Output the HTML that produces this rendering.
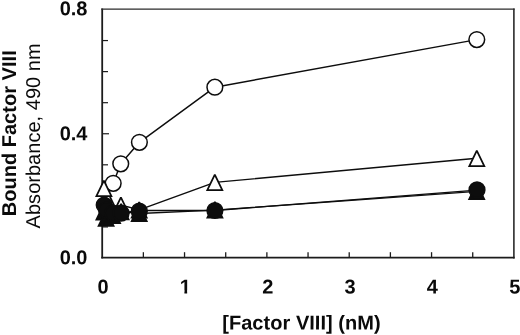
<!DOCTYPE html>
<html><head><meta charset="utf-8"><title>Figure</title>
<style>html,body{margin:0;padding:0;background:#fff}body{width:520px;height:335px;overflow:hidden}</style></head>
<body>
<svg width="520" height="335" viewBox="0 0 520 335" style="display:block;will-change:transform">
<rect width="520" height="335" fill="#fff"/>
<line x1="102.2" y1="8.5" x2="102.2" y2="258.40000000000003" stroke="#1c1c1c" stroke-width="1.8"/>
<line x1="101.3" y1="257.6" x2="514.65" y2="257.6" stroke="#1c1c1c" stroke-width="1.6"/>
<line x1="513.9" y1="8.5" x2="513.9" y2="258.40000000000003" stroke="#1c1c1c" stroke-width="1.5"/>
<line x1="101.3" y1="9.1" x2="514.65" y2="9.1" stroke="#2a2a2a" stroke-width="1.3"/>
<line x1="102.2" x2="108.0" y1="226.94" y2="226.94" stroke="#1c1c1c" stroke-width="1.2"/>
<line x1="102.2" x2="108.0" y1="195.88" y2="195.88" stroke="#1c1c1c" stroke-width="1.2"/>
<line x1="102.2" x2="108.0" y1="164.81" y2="164.81" stroke="#1c1c1c" stroke-width="1.2"/>
<line x1="102.2" x2="109.0" y1="133.75" y2="133.75" stroke="#1c1c1c" stroke-width="1.2"/>
<line x1="102.2" x2="108.0" y1="102.69" y2="102.69" stroke="#1c1c1c" stroke-width="1.2"/>
<line x1="102.2" x2="108.0" y1="71.62" y2="71.62" stroke="#1c1c1c" stroke-width="1.2"/>
<line x1="102.2" x2="108.0" y1="40.56" y2="40.56" stroke="#1c1c1c" stroke-width="1.2"/>
<line x1="143.37" x2="143.37" y1="257.6" y2="252.20000000000002" stroke="#1c1c1c" stroke-width="1.3"/>
<line x1="184.54" x2="184.54" y1="257.6" y2="252.20000000000002" stroke="#1c1c1c" stroke-width="1.3"/>
<line x1="225.71" x2="225.71" y1="257.6" y2="252.20000000000002" stroke="#1c1c1c" stroke-width="1.3"/>
<line x1="266.88" x2="266.88" y1="257.6" y2="252.20000000000002" stroke="#1c1c1c" stroke-width="1.3"/>
<line x1="308.05" x2="308.05" y1="257.6" y2="252.20000000000002" stroke="#1c1c1c" stroke-width="1.3"/>
<line x1="349.22" x2="349.22" y1="257.6" y2="252.20000000000002" stroke="#1c1c1c" stroke-width="1.3"/>
<line x1="390.39" x2="390.39" y1="257.6" y2="252.20000000000002" stroke="#1c1c1c" stroke-width="1.3"/>
<line x1="431.56" x2="431.56" y1="257.6" y2="252.20000000000002" stroke="#1c1c1c" stroke-width="1.3"/>
<line x1="472.73" x2="472.73" y1="257.6" y2="252.20000000000002" stroke="#1c1c1c" stroke-width="1.3"/>
<polyline points="103.9,188.4 107.0,198.4 112.9,210.0 120.9,205.0 139.2,209.9 214.8,182.4 476.8,158.3" fill="none" stroke="#0d0d0d" stroke-width="1.45" stroke-linejoin="round"/>
<polyline points="113.2,183.3 120.75,163.8 139.4,142.3 214.85,87.2 476.8,39.6" fill="none" stroke="#0d0d0d" stroke-width="1.45" stroke-linejoin="round"/>
<polyline points="104.2,205.0 106.5,210.0 113.0,213.2 121.1,213.2 139.3,210.4 214.9,210.5 477.0,190.2" fill="none" stroke="#0d0d0d" stroke-width="1.3" stroke-linejoin="round"/>
<polyline points="103.9,211.7 106.1,218.0 112.6,215.2 121.1,211.5 139.2,213.5 214.9,210.1 476.7,191.4" fill="none" stroke="#0d0d0d" stroke-width="1.3" stroke-linejoin="round"/>
<circle cx="113.2" cy="183.3" r="7.85" fill="#fff" stroke="#0d0d0d" stroke-width="1.5"/>
<circle cx="120.75" cy="163.8" r="7.85" fill="#fff" stroke="#0d0d0d" stroke-width="1.5"/>
<circle cx="139.4" cy="142.3" r="7.85" fill="#fff" stroke="#0d0d0d" stroke-width="1.5"/>
<circle cx="214.85" cy="87.2" r="7.85" fill="#fff" stroke="#0d0d0d" stroke-width="1.5"/>
<circle cx="476.8" cy="39.6" r="7.85" fill="#fff" stroke="#0d0d0d" stroke-width="1.5"/>
<polygon points="476.8,150.60 469.30,166.10 484.30,166.10" fill="#fff" stroke="#0d0d0d" stroke-width="1.75" stroke-linejoin="miter" stroke-miterlimit="2"/>
<polygon points="214.8,174.70 207.30,190.20 222.30,190.20" fill="#fff" stroke="#0d0d0d" stroke-width="1.75" stroke-linejoin="miter" stroke-miterlimit="2"/>
<polygon points="139.2,202.20 131.70,217.70 146.70,217.70" fill="#fff" stroke="#0d0d0d" stroke-width="1.75" stroke-linejoin="miter" stroke-miterlimit="2"/>
<polygon points="120.9,197.30 113.40,212.80 128.40,212.80" fill="#fff" stroke="#0d0d0d" stroke-width="1.75" stroke-linejoin="miter" stroke-miterlimit="2"/>
<polygon points="107.0,190.70 99.50,206.20 114.50,206.20" fill="#fff" stroke="#0d0d0d" stroke-width="1.75" stroke-linejoin="miter" stroke-miterlimit="2"/>
<polygon points="103.9,180.70 96.40,196.20 111.40,196.20" fill="#fff" stroke="#0d0d0d" stroke-width="1.75" stroke-linejoin="miter" stroke-miterlimit="2"/>
<polygon points="103.9,204.00 96.40,219.50 111.40,219.50" fill="#0d0d0d" stroke="#0d0d0d" stroke-width="1.75" stroke-linejoin="miter" stroke-miterlimit="2"/>
<polygon points="106.1,210.30 98.60,225.80 113.60,225.80" fill="#0d0d0d" stroke="#0d0d0d" stroke-width="1.75" stroke-linejoin="miter" stroke-miterlimit="2"/>
<polygon points="112.6,207.50 105.10,223.00 120.10,223.00" fill="#0d0d0d" stroke="#0d0d0d" stroke-width="1.75" stroke-linejoin="miter" stroke-miterlimit="2"/>
<polygon points="121.1,203.80 113.60,219.30 128.60,219.30" fill="#0d0d0d" stroke="#0d0d0d" stroke-width="1.75" stroke-linejoin="miter" stroke-miterlimit="2"/>
<polygon points="139.2,205.50 131.70,221.00 146.70,221.00" fill="#0d0d0d" stroke="#0d0d0d" stroke-width="1.75" stroke-linejoin="miter" stroke-miterlimit="2"/>
<polygon points="214.9,202.00 207.40,217.50 222.40,217.50" fill="#0d0d0d" stroke="#0d0d0d" stroke-width="1.75" stroke-linejoin="miter" stroke-miterlimit="2"/>
<polygon points="476.7,183.50 469.20,199.00 484.20,199.00" fill="#0d0d0d" stroke="#0d0d0d" stroke-width="1.75" stroke-linejoin="miter" stroke-miterlimit="2"/>
<circle cx="104.2" cy="205.0" r="7.85" fill="#0d0d0d" stroke="#0d0d0d" stroke-width="1.5"/>
<circle cx="106.5" cy="210.0" r="7.85" fill="#0d0d0d" stroke="#0d0d0d" stroke-width="1.5"/>
<circle cx="113.0" cy="213.2" r="7.85" fill="#0d0d0d" stroke="#0d0d0d" stroke-width="1.5"/>
<circle cx="121.1" cy="213.2" r="7.85" fill="#0d0d0d" stroke="#0d0d0d" stroke-width="1.5"/>
<circle cx="139.3" cy="211.2" r="7.85" fill="#0d0d0d" stroke="#0d0d0d" stroke-width="1.5"/>
<circle cx="214.9" cy="210.5" r="7.85" fill="#0d0d0d" stroke="#0d0d0d" stroke-width="1.5"/>
<circle cx="477.0" cy="189.9" r="7.85" fill="#0d0d0d" stroke="#0d0d0d" stroke-width="1.5"/>
<text x="87.5" y="15.2" transform="rotate(0.03 87.5 15.2)" text-anchor="end" font-size="20" font-weight="bold" font-family="Liberation Sans, Arial, Helvetica, sans-serif" fill="#0a0a0a" text-rendering="geometricPrecision">0.8</text>
<text x="87.5" y="140.3" transform="rotate(0.03 87.5 140.3)" text-anchor="end" font-size="20" font-weight="bold" font-family="Liberation Sans, Arial, Helvetica, sans-serif" fill="#0a0a0a" text-rendering="geometricPrecision">0.4</text>
<text x="87.5" y="264.2" transform="rotate(0.03 87.5 264.2)" text-anchor="end" font-size="20" font-weight="bold" font-family="Liberation Sans, Arial, Helvetica, sans-serif" fill="#0a0a0a" text-rendering="geometricPrecision">0.0</text>
<text x="103.0" y="293.5" transform="rotate(0.03 102.2 293.5)" text-anchor="middle" font-size="20" font-weight="bold" font-family="Liberation Sans, Arial, Helvetica, sans-serif" fill="#0a0a0a" text-rendering="geometricPrecision">0</text>
<text x="185.3" y="293.5" transform="rotate(0.03 184.5 293.5)" text-anchor="middle" font-size="20" font-weight="bold" font-family="Liberation Sans, Arial, Helvetica, sans-serif" fill="#0a0a0a" text-rendering="geometricPrecision">1</text>
<text x="267.7" y="293.5" transform="rotate(0.03 266.9 293.5)" text-anchor="middle" font-size="20" font-weight="bold" font-family="Liberation Sans, Arial, Helvetica, sans-serif" fill="#0a0a0a" text-rendering="geometricPrecision">2</text>
<text x="350.0" y="293.5" transform="rotate(0.03 349.2 293.5)" text-anchor="middle" font-size="20" font-weight="bold" font-family="Liberation Sans, Arial, Helvetica, sans-serif" fill="#0a0a0a" text-rendering="geometricPrecision">3</text>
<text x="432.4" y="293.5" transform="rotate(0.03 431.6 293.5)" text-anchor="middle" font-size="20" font-weight="bold" font-family="Liberation Sans, Arial, Helvetica, sans-serif" fill="#0a0a0a" text-rendering="geometricPrecision">4</text>
<text x="514.7" y="293.5" transform="rotate(0.03 513.9 293.5)" text-anchor="middle" font-size="20" font-weight="bold" font-family="Liberation Sans, Arial, Helvetica, sans-serif" fill="#0a0a0a" text-rendering="geometricPrecision">5</text>
<rect x="179" y="290.4" width="5.4" height="4.2" fill="#fff"/><rect x="187.15" y="290.4" width="5" height="4.2" fill="#fff"/>
<text x="222.2" y="329.5" transform="rotate(0.03 300 329.5)" textLength="158.5" lengthAdjust="spacing" font-size="20" font-weight="bold" font-family="Liberation Sans, Arial, Helvetica, sans-serif" fill="#0a0a0a" text-rendering="geometricPrecision">[Factor VIII] (nM)</text>
<text transform="translate(15.7,216.3) rotate(-90)" textLength="166" lengthAdjust="spacing" font-size="20" font-weight="bold" font-family="Liberation Sans, Arial, Helvetica, sans-serif" fill="#0a0a0a" text-rendering="geometricPrecision">Bound Factor VIII</text>
<text transform="translate(40.2,228.4) rotate(-90)" textLength="185" lengthAdjust="spacing" font-size="20" font-family="Liberation Sans, Arial, Helvetica, sans-serif" fill="#0a0a0a" text-rendering="geometricPrecision">Absorbance, 490 nm</text>
</svg>
</body></html>
